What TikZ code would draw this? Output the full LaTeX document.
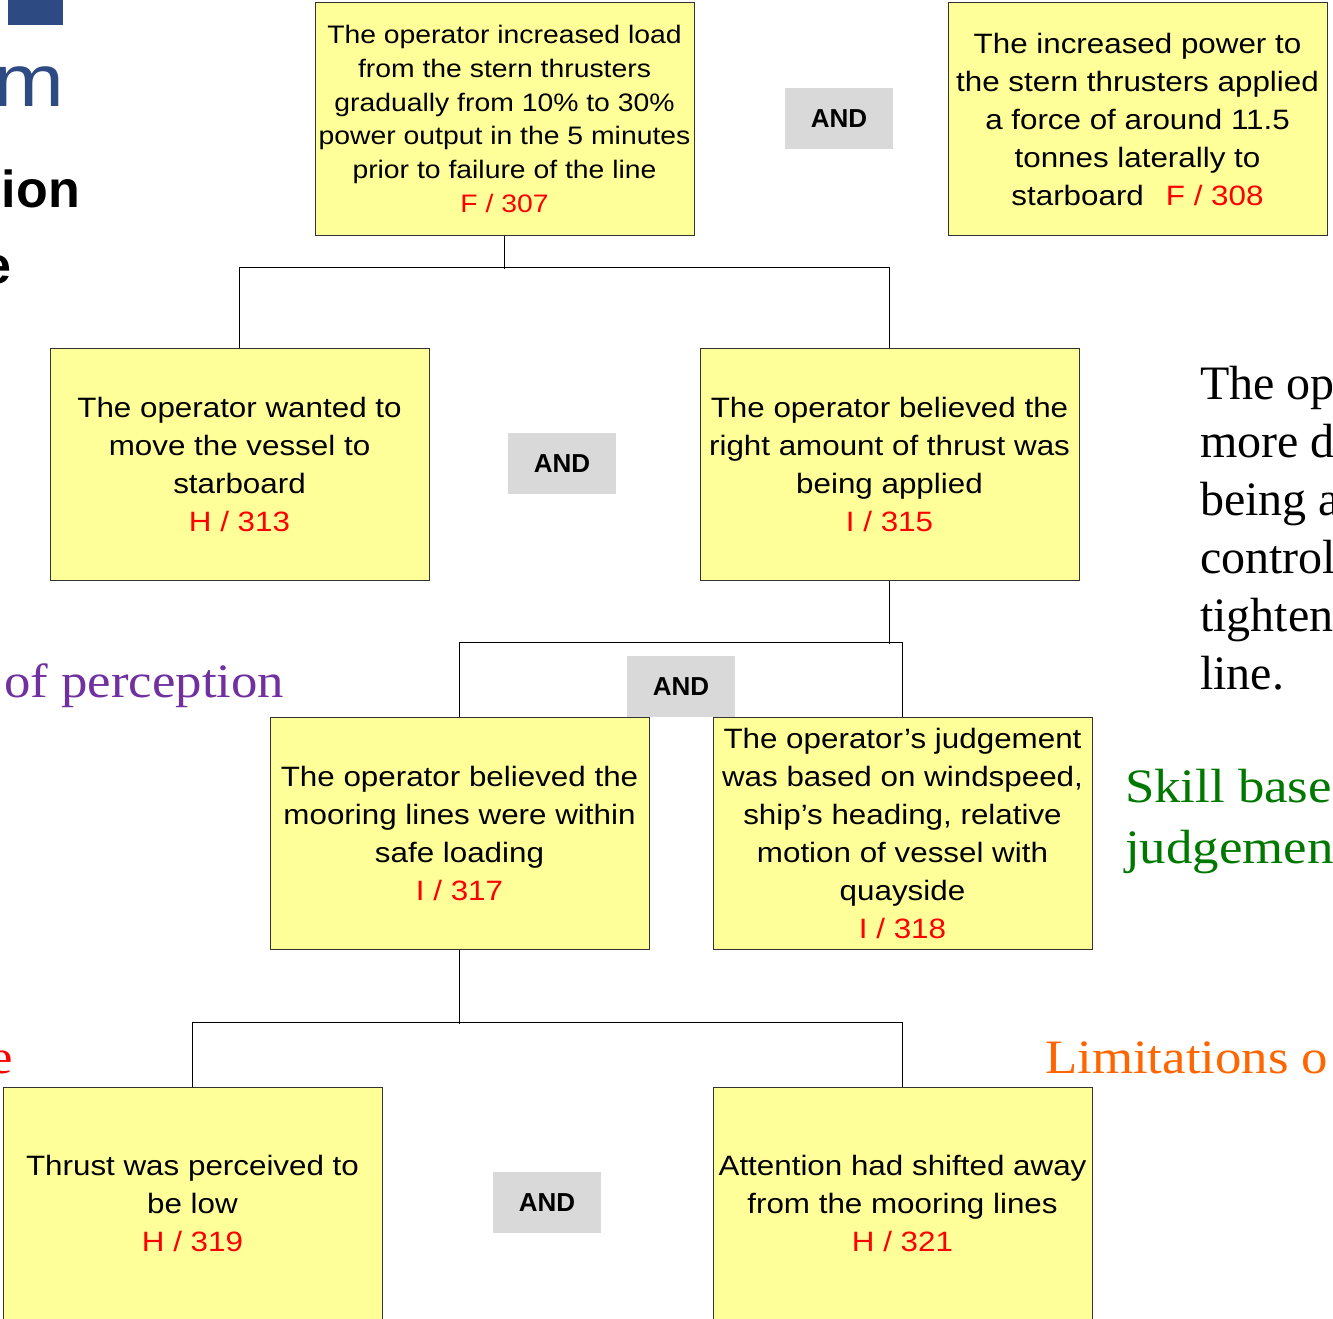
\documentclass[tikz,border=0pt]{standalone}
\usepackage{fontspec}
\setmainfont{Liberation Sans}
\newfontfamily\boxfont[FakeStretch=1.12]{Liberation Sans}
\newfontfamily\logofont[FakeStretch=1.15]{Liberation Sans}
\newfontfamily\sidefont[FakeStretch=1.1]{Liberation Serif}
\newfontfamily\notefont{Liberation Serif}
\definecolor{boxyellow}{HTML}{FFFF99}
\definecolor{gategray}{HTML}{D9D9D9}
\definecolor{perceptpurple}{HTML}{7030A0}
\definecolor{skillgreen}{HTML}{007800}
\definecolor{limitorange}{HTML}{FF6600}
\definecolor{logoblue}{HTML}{2E4A82}
\newcommand{\code}[1]{{\color{red}#1}}

\begin{document}
\begin{tikzpicture}[x=1pt, y=-1pt,
    cause/.style ={rectangle, draw=black!80, fill=boxyellow, line width=1pt, inner sep=0pt,
      minimum width=379pt, minimum height=232pt, align=center, font=\boxfont\fontsize{28}{38}\selectfont},
    gate/.style ={rectangle, fill=gategray, inner sep=0pt, minimum width=108pt, minimum height=61pt,
      font=\bfseries\fontsize{26}{30}\selectfont},
    sidenote/.style ={anchor=base west, inner sep=0pt, align=left, font=\sidefont\fontsize{48}{58}\selectfont}]
   \useasboundingbox (0,0) rectangle (1333,1319);
   \clip (0,0) rectangle (1333,1319);

   % slide fragments at the edges (base anchor = last line)
   \fill[logoblue] (8,0) rectangle (63,25);
   \node[anchor=base west, inner sep=0pt, text=logoblue, font=\logofont\fontsize{74}{80}\selectfont] (logom) at (-7,107) {m};
   \node[anchor=base east, inner sep=0pt, font=\bfseries\fontsize{52}{60}\selectfont] (titleA) at (80,207) {ion};
   \node[anchor=base east, inner sep=0pt, font=\bfseries\fontsize{52}{60}\selectfont] (titleB) at (12,283) {e};
   \node[sidenote, text=perceptpurple] (perc) at (4,697) {of perception};
   \node[anchor=base east, inner sep=0pt, text=red, font=\sidefont\fontsize{48}{58}\selectfont] (rede) at (13,1073) {e};
   \node[sidenote, font=\notefont\fontsize{48}{58}\selectfont] (opnote) at (1200,689) {The op\\more d\\being a\\control\\tighten\\line.};
   \node[sidenote, text=skillgreen, font=\sidefont\fontsize{48}{61}\selectfont] (skill) at (1125,863) {Skill base\\judgemen};
   \node[sidenote, text=limitorange] (limit) at (1045,1073) {Limitations o};

   % causes
   \node[cause, font=\boxfont\fontsize{25.3}{33.7}\selectfont] (f307) at (504.5,119)
     {The operator increased load\\from the stern thrusters\\gradually from 10\% to 30\%\\power output in the 5 minutes\\prior to failure of the line\\\code{F / 307}};
   \node[cause] (f308) at (1137.5,119)
     {The increased power to\\the stern thrusters applied\\a force of around 11.5\\tonnes laterally to\\starboard\hspace{22pt}\code{F / 308}};
   \node[cause] (h313) at (239.5,464)
     {The operator wanted to\\move the vessel to\\starboard\\\code{H / 313}};
   \node[cause] (i315) at (889.5,464)
     {The operator believed the\\right amount of thrust was\\being applied\\\code{I / 315}};
   \node[cause] (i317) at (459.5,833)
     {The operator believed the\\mooring lines were within\\safe loading\\\code{I / 317}};
   \node[cause] (i318) at (902.5,833)
     {The operator’s judgement\\was based on windspeed,\\ship’s heading, relative\\motion of vessel with\\quayside\\\code{I / 318}};
   \node[cause] (h319) at (192.5,1203)
     {Thrust was perceived to\\be low\\\code{H / 319}};
   \node[cause] (h321) at (902.5,1203)
     {Attention had shifted away\\from the mooring lines\\\code{H / 321}};

   % tree lines
   \draw[line width=1.3pt] (f307.south) -- ++(0,33);
   \draw[line width=1.3pt] (h313.north) -- ++(0,-80) -| (i315.north);
   \draw[line width=1.3pt] (i315.south) -- ++(0,63);
   \draw[line width=1.3pt] (i317.north) -- ++(0,-74) -| (i318.north);
   \draw[line width=1.3pt] (i317.south) -- ++(0,74);
   \draw[line width=1.3pt] (h319.north) -- ++(0,-64) -| (h321.north);

   % gates
   \node[gate] (and1) at (839,118.5) {AND};
   \node[gate] (and2) at (562,463.5) {AND};
   \node[gate] (and3) at (681,686.5) {AND};
   \node[gate] (and4) at (547,1202.5) {AND};
\end{tikzpicture}
\end{document}
